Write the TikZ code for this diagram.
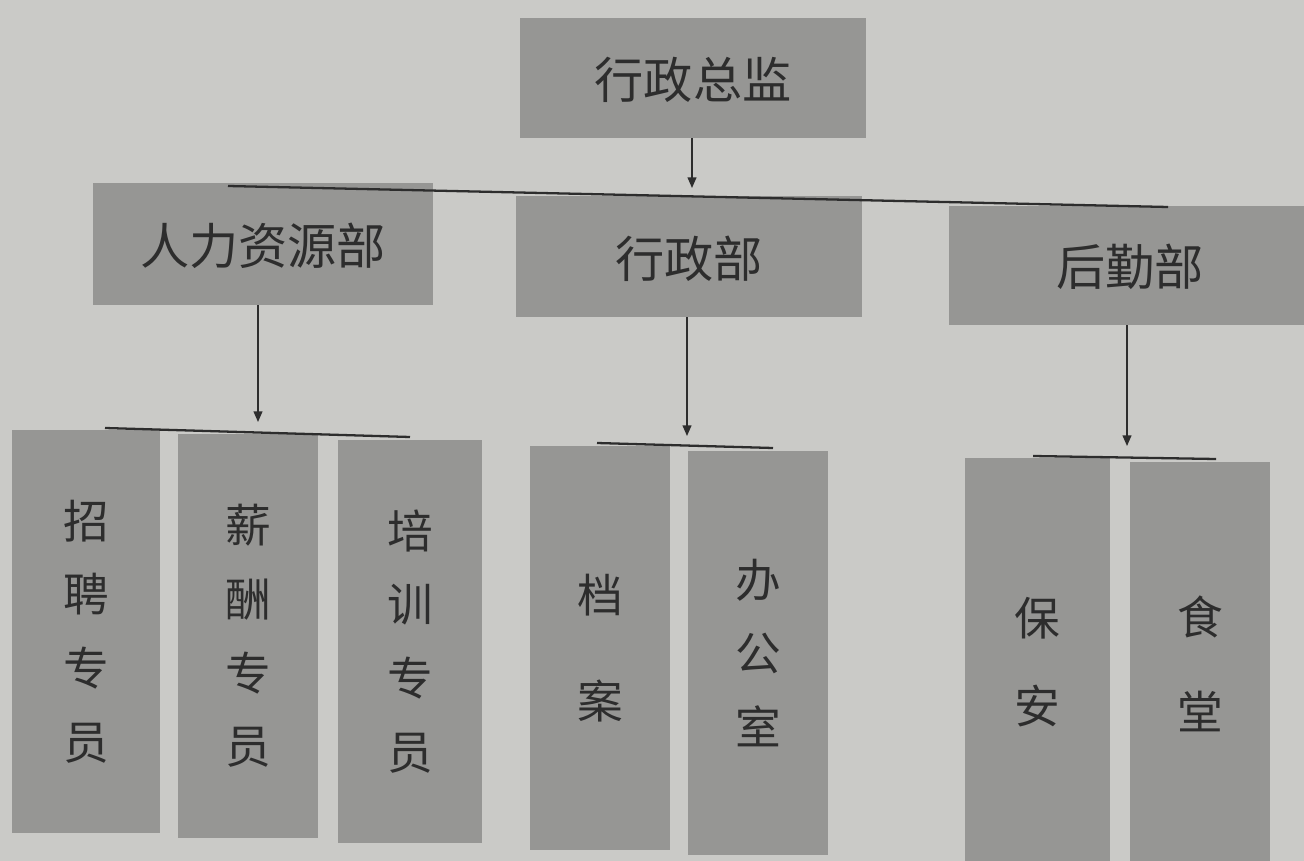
\documentclass[tikz,border=0pt]{standalone}
\usepackage{fontspec}
\newfontfamily\cjk{Noto Sans CJK SC}
\usetikzlibrary{fit,arrows.meta}
\definecolor{bgc}{RGB}{202,202,199}
\definecolor{boxc}{RGB}{150,150,148}
\definecolor{inkc}{RGB}{45,45,45}
\tikzset{
  pbox/.style={fill=boxc, draw=none, inner sep=0pt},
  htext/.style={inner sep=0pt, text=inkc, yshift=-0.04cm, font=\cjk\fontsize{28}{32}\selectfont},
  vtext/.style={inner sep=0pt, text=inkc, align=center, font=\cjk\fontsize{26}{42}\selectfont},
  bus/.style={draw=inkc, line width=1.3pt},
  arr/.style={draw=inkc, line width=0.8pt, -{Triangle[length=6pt,width=5pt]}}
}
\begin{document}
\begin{tikzpicture}[x=0.02cm,y=-0.02cm]
\useasboundingbox (0,0) rectangle (1304,861);
\clip (0,0) rectangle (1304,861);
\fill[bgc] (0,0) rectangle (1304,861);
% level 0
\node[pbox, fit={(520,18) (866,138)}] (top) {};
\node[htext] (topt) at (top.center) {行政总监};
% level 1
\node[pbox, fit={(93,183) (433,305)}] (hr) {};
\node[htext] (hrt) at (hr.center) {人力资源部};
\node[pbox, fit={(516,196) (862,317)}] (xz) {};
\node[htext] (xzt) at (xz.center) {行政部};
\node[pbox, fit={(949,206) (1310,325)}] (hq) {};
\node[htext] (hqt) at (1130,265) {后勤部};
% level 2
\node[pbox, fit={(12,430) (160,833)}] (zp) {};
\node[vtext] (zpt) at (zp.center) {招\\聘\\专\\员};
\node[pbox, fit={(178,434) (318,838)}] (xc) {};
\node[vtext] (xct) at (xc.center) {薪\\酬\\专\\员};
\node[pbox, fit={(338,440) (482,843)}] (px) {};
\node[vtext] (pxt) at (px.center) {培\\训\\专\\员};
\node[pbox, fit={(530,446) (670,850)}] (da) {};
\node[vtext] (dat) at (da.center) {档\\[18pt]案};
\node[pbox, fit={(688,451) (828,855)}] (bgs) {};
\node[vtext] (bgst) at (bgs.center) {办\\公\\室};
\node[pbox, fit={(965,458) (1110,866)}] (ba) {};
\node[vtext] (bat) at (ba.center) {保\\[8pt]安};
\node[pbox, fit={(1130,462) (1270,866)}] (st) {};
\node[vtext] (stt) at (st.center) {食\\[12pt]堂};
% buses
\coordinate (b0l) at (228,186);
\coordinate (b0r) at (1168,207);
\coordinate (b0m) at (692,188);
\draw[bus] (b0l) -- (b0r);
\coordinate (b1l) at (105,428);
\coordinate (b1r) at (410,437);
\coordinate (b1m) at (258,422);
\draw[bus] (b1l) -- (b1r);
\coordinate (b2l) at (597,443);
\coordinate (b2r) at (773,448);
\coordinate (b2m) at (687,436);
\draw[bus] (b2l) -- (b2r);
\coordinate (b3l) at (1033,456);
\coordinate (b3r) at (1216,459);
\coordinate (b3m) at (1127,446);
\draw[bus] (b3l) -- (b3r);
% arrows
\draw[arr] (top.south -| b0m) -- (b0m);
\draw[arr] (hr.south -| b1m) -- (b1m);
\draw[arr] (xz.south -| b2m) -- (b2m);
\draw[arr] (hq.south -| b3m) -- (b3m);
\end{tikzpicture}
\end{document}
